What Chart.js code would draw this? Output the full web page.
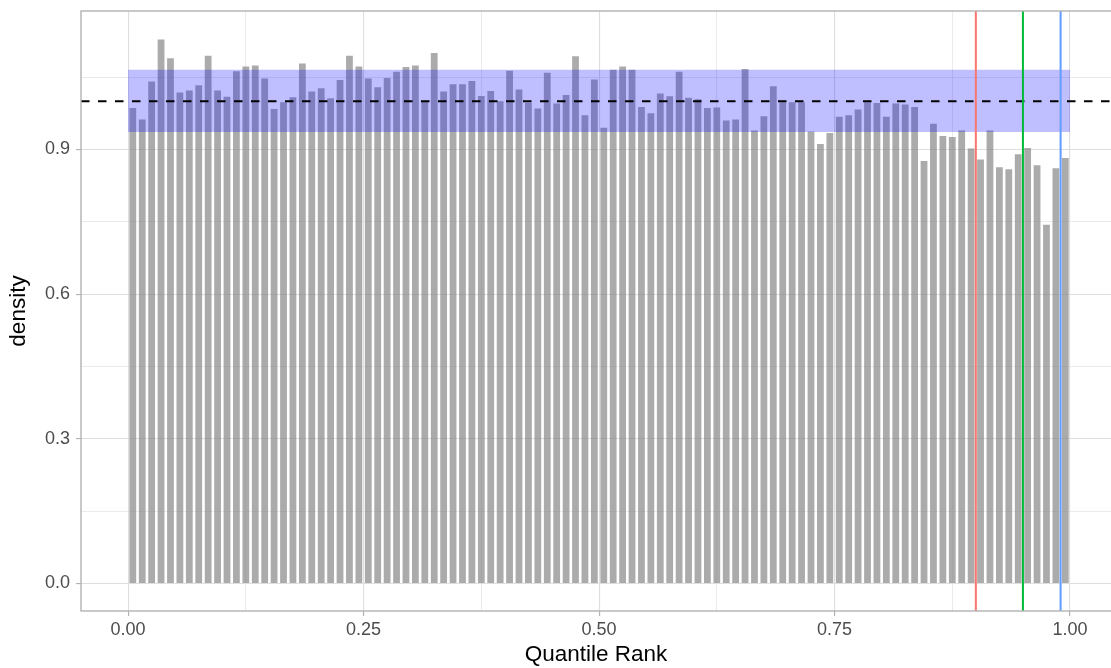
<!DOCTYPE html>
<html>
<head>
<meta charset="utf-8">
<script src="https://cdn.jsdelivr.net/npm/chart.js@4/dist/chart.umd.min.js"></script>
<style>
  html, body { margin: 0; padding: 0; background: #ffffff; }
  #wrap { width: 1111px; height: 668px; }
</style>
</head>
<body>
<div id="wrap"><canvas id="qr_canvas" width="1111" height="668"></canvas></div>
<script>
//  histogram of quantile ranks, 100 bins of width 0.01
var binStart = 0,
    binWidth = 0.01;

var densities = [
  0.986, 0.962, 1.041, 1.128, 1.089, 1.018, 1.022, 1.033, 1.094, 1.022,
  1.009, 1.062, 1.072, 1.074, 1.047, 0.984, 0.998, 1.008, 1.078, 1.020,
  1.027, 1.006, 1.044, 1.094, 1.072, 1.047, 1.029, 1.048, 1.061, 1.071,
  1.074, 1.000, 1.100, 1.020, 1.035, 1.035, 1.042, 1.011, 1.021, 1.000,
  1.063, 1.024, 0.997, 0.985, 1.059, 0.995, 1.013, 1.093, 0.971, 1.045,
  0.945, 1.065, 1.072, 1.065, 0.988, 0.975, 1.016, 1.010, 1.061, 1.007,
  1.004, 0.986, 0.987, 0.960, 0.962, 1.067, 0.939, 0.969, 1.031, 0.998,
  0.998, 0.998, 0.937, 0.911, 0.934, 0.968, 0.971, 0.983, 0.998, 0.996,
  0.968, 0.995, 0.993, 0.988, 0.876, 0.953, 0.928, 0.926, 0.939, 0.902,
  0.879, 0.939, 0.863, 0.859, 0.890, 0.903, 0.867, 0.744, 0.861, 0.882
];

//  confidence band + expected density
var bandRange = [0, 1];
var bandLo    = 0.936,
    bandHi    = 1.065,
    refLevel  = 1.0;

//  quantile markers
var markerValues = [0.90, 0.95, 0.99];
var markerColors = ['#F8766D', '#00BA38', '#619CFF'];

//  axes
var xMajor = [0, 0.25, 0.5, 0.75, 1.0];
var xMinor = [0.125, 0.375, 0.625, 0.875];
var yMajor = [0, 0.3, 0.6, 0.9];
var yMinor = [0.15, 0.45, 0.75, 1.05];
var xLimits = [-0.05, 1.0435];
var yLimits = [-0.057, 1.187];

(function() {
  'use strict';

  var GRID   = '#DEDEDE',
      BORDER = '#B3B3B3',
      FONT   = "'Liberation Sans', Arial, Helvetica, sans-serif";

  var isMajor = function(list, v) {
    for (var i = 0; i < list.length; i++) {
      if (Math.abs(list[i] - v) < 1e-9) return true;
    }
    return false;
  };

  var barPoints = densities.map(function(d, i) {
    return { x: binStart + (i + 0.5) * binWidth, y: d };
  });

  var datasets = [{
    type: 'bar',
    label: 'density',
    data: barPoints,
    backgroundColor: 'rgba(127, 127, 127, 0.66)',
    borderWidth: 0,
    barPercentage: 0.72,
    categoryPercentage: 1,
    order: 10
  }, {
    type: 'line',
    label: 'band',
    data: [{ x: bandRange[0], y: bandHi }, { x: bandRange[1], y: bandHi }],
    borderWidth: 0,
    borderColor: 'rgba(0,0,0,0)',
    backgroundColor: 'rgba(0, 0, 255, 0.25)',
    pointRadius: 0,
    fill: { value: bandLo },
    order: 9
  }, {
    type: 'line',
    label: 'reference',
    data: [{ x: xLimits[0], y: refLevel }, { x: xLimits[1], y: refLevel }],
    borderColor: '#000000',
    borderWidth: 2,
    borderDash: [8.5, 8.5],
    pointRadius: 0,
    fill: false,
    order: 8
  }];

  //  one vertical line per quantile marker
  markerValues.forEach(function(q, i) {
    datasets.push({
      type: 'line',
      label: 'q' + q,
      data: [{ x: q, y: yLimits[0] }, { x: q, y: yLimits[1] }],
      borderColor: markerColors[i],
      borderWidth: 2,
      pointRadius: 0,
      fill: false,
      order: 3 - i
    });
  });

  //  panel border like theme_light
  var panelBorder = {
    id: 'panelBorder',
    afterDatasetsDraw: function(chart) {
      var a = chart.chartArea, ctx = chart.ctx;
      ctx.save();
      ctx.strokeStyle = BORDER;
      ctx.lineWidth = 1.4;
      ctx.strokeRect(a.left, a.top, a.right - a.left + 2, a.bottom - a.top);
      ctx.restore();
    }
  };

  var ctx = document.getElementById('qr_canvas').getContext('2d');

  new Chart(ctx, {
    type: 'bar',
    data: { datasets: datasets },
    plugins: [panelBorder],
    options: {
      responsive: false,
      devicePixelRatio: 1,
      animation: false,
      layout: { padding: { top: 11, left: 0, right: 0, bottom: 0 } },
      plugins: {
        legend: { display: false },
        tooltip: { enabled: false }
      },
      scales: {
        x: {
          type: 'linear',
          offset: false,
          min: xLimits[0],
          max: xLimits[1],
          afterBuildTicks: function(s) {
            s.ticks = xMajor.concat(xMinor).sort(function(a, b) { return a - b; })
              .map(function(v) { return { value: v }; });
          },
          afterFit: function(s) {
            s.height = 57;
            s.paddingLeft = 0;
            s.paddingRight = 0;
          },
          border: { display: false },
          grid: {
            offset: false,
            drawTicks: true,
            tickLength: 5,
            color: function(c) { return GRID; },
            lineWidth: function(c) { return isMajor(xMajor, c.tick.value) ? 1.1 : 0.6; },
            tickColor: function(c) { return isMajor(xMajor, c.tick.value) ? BORDER : 'rgba(0,0,0,0)'; },
            tickWidth: 1.2
          },
          ticks: {
            autoSkip: false,
            maxRotation: 0,
            padding: 3,
            color: '#4D4D4D',
            font: { family: FONT, size: 18 },
            callback: function(v) { return isMajor(xMajor, v) ? v.toFixed(2) : ''; }
          },
          title: {
            display: true,
            text: 'Quantile Rank',
            color: '#000000',
            font: { family: FONT, size: 22.5 },
            padding: { top: 0, bottom: 0 }
          }
        },
        y: {
          type: 'linear',
          min: yLimits[0],
          max: yLimits[1],
          afterBuildTicks: function(s) {
            s.ticks = yMajor.concat(yMinor).sort(function(a, b) { return a - b; })
              .map(function(v) { return { value: v }; });
          },
          afterFit: function(s) {
            s.width = 81;
            s.paddingTop = 0;
            s.paddingBottom = 0;
          },
          border: { display: false },
          grid: {
            drawTicks: true,
            tickLength: 5,
            color: function(c) { return GRID; },
            lineWidth: function(c) { return isMajor(yMajor, c.tick.value) ? 1.1 : 0.6; },
            tickColor: function(c) { return isMajor(yMajor, c.tick.value) ? BORDER : 'rgba(0,0,0,0)'; },
            tickWidth: 1.2
          },
          ticks: {
            autoSkip: false,
            padding: 6,
            color: '#4D4D4D',
            font: { family: FONT, size: 18 },
            callback: function(v) { return isMajor(yMajor, v) ? v.toFixed(1) : ''; }
          },
          title: {
            display: true,
            text: 'density',
            color: '#000000',
            font: { family: FONT, size: 22.5 },
            padding: { top: 5, bottom: 0 }
          }
        }
      }
    }
  });

})();
</script>
</body>
</html>
